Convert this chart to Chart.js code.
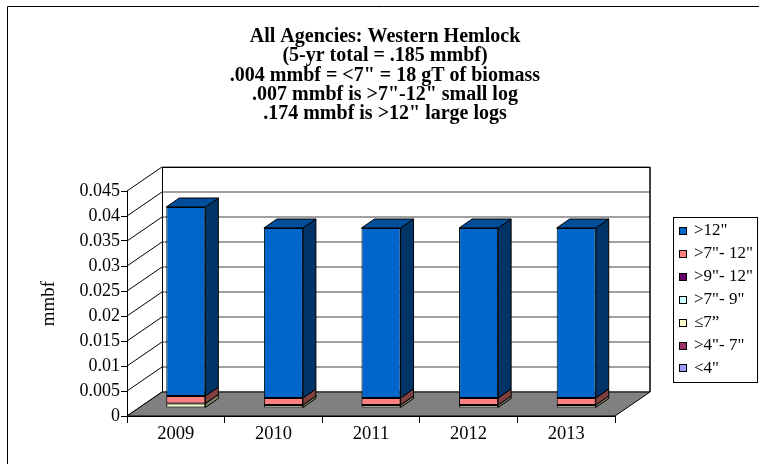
<!DOCTYPE html>
<html>
<head>
<meta charset="utf-8">
<script src="https://cdn.jsdelivr.net/npm/chart.js@4"></script>
<style>
  html, body { margin: 0; padding: 0; background: #fff; }
</style>
</head>
<body>
<canvas id="chart" width="759" height="464"></canvas>
<script>
// === Data ===
const years = ['2009', '2010', '2011', '2012', '2013'];

// stacked from the floor up
const seriesNames = ['<4"', '>4"- 7"', '\u22647\u201D', '>7"- 9"', '>9"- 12"', '>7"- 12"', '>12"'];
const under4 = [0, 0, 0, 0, 0];
const from4to7 = [0, 0, 0, 0, 0];
const upTo7 = [0.0009, 0.0006, 0.0006, 0.0006, 0.0006];
const from7to9 = [0, 0, 0, 0, 0];
const from9to12 = [0, 0, 0, 0, 0];
const from7to12 = [0.0015, 0.0014, 0.0014, 0.0014, 0.0014];
const over12 = [0.0378, 0.034, 0.034, 0.034, 0.034];

const yTickLabels = ['0', '0.005', '0.01', '0.015', '0.02', '0.025', '0.03', '0.035', '0.04', '0.045'];

const titleLines = [
  'All Agencies: Western Hemlock',
  '(5-yr total = .185 mmbf)',
  '.004 mmbf = <7" = 18 gT of biomass',
  '.007 mmbf is >7"-12" small log',
  '.174 mmbf is >12" large logs'
];

// === Styles ===
const seriesColors = ['#9999FF', '#993366', '#FFFFCC', '#CCFFFF', '#660066', '#FF8080', '#0066CC'];
const serif = 'Liberation Serif, Times New Roman, serif';

// 3D offsets: back wall depth and bar placement
const DEPTH = { dx: 35, dy: -24 };
const BAR_SHIFT = { dx: 10, dy: -8 };
const BAR_DEPTH = { dx: 13, dy: -9 };

const shade = (hex, f) => {
  const n = parseInt(hex.slice(1), 16);
  const r = Math.round(((n >> 16) & 255) * f);
  const g = Math.round(((n >> 8) & 255) * f);
  const b = Math.round((n & 255) * f);
  return `rgb(${r}, ${g}, ${b})`;
};

const seriesData = [under4, from4to7, upTo7, from7to9, from9to12, from7to12, over12];

const datasets = seriesData.map((values, i) => ({
  label: seriesNames[i],
  data: values,
  backgroundColor: seriesColors[i],
  borderColor: '#000',
  borderWidth: 1,
  borderSkipped: false,
  barPercentage: 0.4,
  categoryPercentage: 1,
  clip: false
}));

// frame + white background
const framePlugin = {
  id: 'frame',
  beforeDraw(chart) {
    const c = chart.ctx;
    c.save();
    c.fillStyle = '#fff';
    c.fillRect(0, 0, chart.width, chart.height);
    c.strokeStyle = '#000';
    c.lineWidth = 1;
    c.beginPath();
    c.moveTo(7.5, chart.height);
    c.lineTo(7.5, 6.5);
    c.lineTo(chart.width, 6.5);
    c.stroke();
    c.restore();
  }
};

// walls, floor and the depth shift of the bars
const boxPlugin = {
  id: 'box3d',
  beforeDatasetsDraw(chart) {
    const c = chart.ctx;
    const x = chart.scales.x;
    const y = chart.scales.y;
    const L = x.left, R = x.right, T = y.top, B = y.bottom;
    c.save();

    // back wall
    c.fillStyle = '#fff';
    c.fillRect(L + DEPTH.dx, T + DEPTH.dy, R - L, B - T);

    // back wall grid lines
    c.strokeStyle = '#808080';
    c.lineWidth = 1.5;
    y.ticks.forEach(t => {
      const py = Math.round(y.getPixelForValue(t.value)) + DEPTH.dy;
      c.beginPath();
      c.moveTo(L + DEPTH.dx, py);
      c.lineTo(R + DEPTH.dx, py);
      c.stroke();
    });

    // side wall diagonals
    c.strokeStyle = '#000';
    c.lineWidth = 1;
    y.ticks.forEach(t => {
      const py = y.getPixelForValue(t.value);
      c.beginPath();
      c.moveTo(L, py);
      c.lineTo(L + DEPTH.dx, py + DEPTH.dy);
      c.stroke();
    });

    // wall edges
    c.beginPath();
    c.moveTo(L + DEPTH.dx + 0.5, B + DEPTH.dy);
    c.lineTo(L + DEPTH.dx + 0.5, T + DEPTH.dy + 0.5);
    c.lineTo(R + DEPTH.dx, T + DEPTH.dy + 0.5);
    c.stroke();
    c.lineWidth = 1.5;
    c.beginPath();
    c.moveTo(R + DEPTH.dx, T + DEPTH.dy);
    c.lineTo(R + DEPTH.dx, B + DEPTH.dy);
    c.stroke();

    // floor
    c.fillStyle = '#808080';
    c.lineWidth = 1;
    c.beginPath();
    c.moveTo(L, B);
    c.lineTo(R, B);
    c.lineTo(R + DEPTH.dx, B + DEPTH.dy);
    c.lineTo(L + DEPTH.dx, B + DEPTH.dy);
    c.closePath();
    c.fill();
    c.stroke();

    c.restore();

    c.save();
    c.translate(BAR_SHIFT.dx, BAR_SHIFT.dy);
  },
  afterDatasetsDraw(chart) {
    const c = chart.ctx;
    const n = chart.data.labels.length;
    for (let j = 0; j < n; j++) {
      // topmost non-empty segment gets the lid
      let top = -1;
      chart.data.datasets.forEach((ds, i) => { if (ds.data[j] > 0) top = i; });
      chart.data.datasets.forEach((ds, i) => {
        if (!(ds.data[j] > 0)) return;
        const bar = chart.getDatasetMeta(i).data[j];
        const { x, y, base, width } = bar.getProps(['x', 'y', 'base', 'width'], true);
        const xl = x - width / 2, xr = x + width / 2;
        c.lineWidth = 1;
        c.strokeStyle = '#000';
        c.lineJoin = 'round';
        // side face
        c.fillStyle = shade(seriesColors[i], 0.5);
        c.beginPath();
        c.moveTo(xr, y);
        c.lineTo(xr + BAR_DEPTH.dx, y + BAR_DEPTH.dy);
        c.lineTo(xr + BAR_DEPTH.dx, base + BAR_DEPTH.dy);
        c.lineTo(xr, base);
        c.closePath();
        c.fill();
        c.stroke();
        if (i === top) {
          c.fillStyle = shade(seriesColors[i], 0.75);
          c.beginPath();
          c.moveTo(xl, y);
          c.lineTo(xr, y);
          c.lineTo(xr + BAR_DEPTH.dx, y + BAR_DEPTH.dy);
          c.lineTo(xl + BAR_DEPTH.dx, y + BAR_DEPTH.dy);
          c.closePath();
          c.fill();
          c.stroke();
        }
      });
    }
    c.restore();
  }
};

// boxed legend on the right, top series first
const legendPlugin = {
  id: 'boxLegend',
  afterDraw(chart) {
    const c = chart.ctx;
    const left = 673, top = 217, w = 84, h = 165;
    c.save();
    c.fillStyle = '#fff';
    c.fillRect(left, top, w, h);
    c.strokeStyle = '#000';
    c.lineWidth = 1;
    c.strokeRect(left + 0.5, top + 0.5, w, h);
    c.font = `17px ${serif}`;
    c.textBaseline = 'middle';
    const items = chart.data.datasets.map((ds, i) => i).reverse();
    items.forEach((i, k) => {
      const cy = top + 14 + k * 22.9;
      c.fillStyle = seriesColors[i];
      c.fillRect(679.5, Math.round(cy) - 3.5, 7, 7);
      c.strokeRect(679.5, Math.round(cy) - 3.5, 7, 7);
      c.fillStyle = '#000';
      c.fillText(chart.data.datasets[i].label, 694, cy);
    });
    c.restore();
  }
};

new Chart(document.getElementById('chart'), {
  type: 'bar',
  data: { labels: years, datasets },
  options: {
    responsive: false,
    animation: false,
    devicePixelRatio: 1,
    layout: { padding: { top: 27, left: 11, right: 0, bottom: 0 } },
    plugins: {
      legend: { display: false },
      tooltip: { enabled: false },
      title: {
        display: true,
        text: titleLines,
        color: '#000',
        font: { family: serif, size: 20, weight: 'bold', lineHeight: 0.97 },
        padding: { top: 0, bottom: 67 }
      }
    },
    scales: {
      x: {
        stacked: true,
        grid: { display: true, drawOnChartArea: false, drawTicks: true, tickLength: 7, color: '#000', offset: true },
        border: { display: true, color: '#000' },
        ticks: { color: '#000', font: { family: serif, size: 18.5 }, padding: 0, maxRotation: 0 },
        afterFit: s => { s.height = 48; }
      },
      y: {
        stacked: true,
        min: 0,
        max: 0.045,
        ticks: {
          stepSize: 0.005,
          color: '#000',
          font: { family: serif, size: 18 },
          padding: 1,
          callback: (v, i) => yTickLabels[i]
        },
        grid: { display: true, drawOnChartArea: false, tickLength: 6, color: '#000' },
        border: { display: true, color: '#000' },
        title: {
          display: true,
          text: 'mmbf',
          color: '#000',
          font: { family: serif, size: 19 },
          padding: { top: 27, bottom: 0 }
        },
        afterFit: s => { s.width = 116; }
      },
      spacer: {
        type: 'linear',
        position: 'right',
        display: true,
        grid: { display: false },
        border: { display: false },
        ticks: { display: false },
        afterFit: s => { s.width = 144; }
      }
    }
  },
  plugins: [framePlugin, boxPlugin, legendPlugin]
});
</script>
</body>
</html>
